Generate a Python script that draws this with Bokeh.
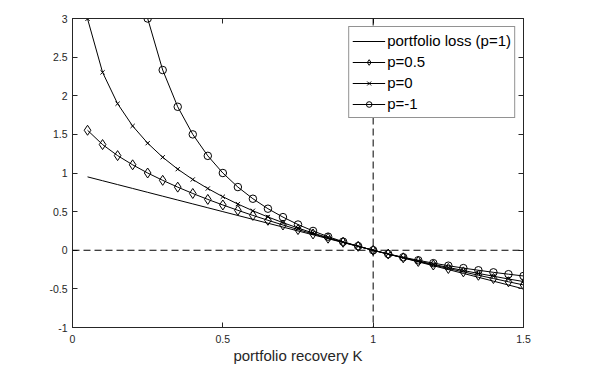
from bokeh.plotting import figure
from bokeh.models import (Range1d, FixedTicker, CustomJSTickFormatter, LinearAxis,
                          Span, Legend, LegendItem)
from bokeh.embed import file_html
from bokeh.resources import INLINE

# Data
K = [0.05, 0.10, 0.15, 0.20, 0.25, 0.30, 0.35, 0.40, 0.45, 0.50,
     0.55, 0.60, 0.65, 0.70, 0.75, 0.80, 0.85, 0.90, 0.95, 1.00,
     1.05, 1.10, 1.15, 1.20, 1.25, 1.30, 1.35, 1.40, 1.45, 1.50]
loss_p1 = [0.95, 0.90, 0.85, 0.80, 0.75, 0.70, 0.65, 0.60, 0.55, 0.50,
           0.45, 0.40, 0.35, 0.30, 0.25, 0.20, 0.15, 0.10, 0.05, 0.00,
           -0.05, -0.10, -0.15, -0.20, -0.25, -0.30, -0.35, -0.40, -0.45, -0.50]
p_05 = [1.553, 1.368, 1.225, 1.106, 1.000, 0.905, 0.817, 0.735, 0.658, 0.586,
        0.517, 0.451, 0.388, 0.327, 0.268, 0.211, 0.156, 0.103, 0.051, 0.000,
        -0.049, -0.098, -0.145, -0.191, -0.236, -0.280, -0.324, -0.366, -0.408, -0.449]
p_0 = [2.996, 2.303, 1.897, 1.609, 1.386, 1.204, 1.050, 0.916, 0.799, 0.693,
       0.598, 0.511, 0.431, 0.357, 0.288, 0.223, 0.163, 0.105, 0.051, 0.000,
       -0.049, -0.095, -0.140, -0.182, -0.223, -0.262, -0.300, -0.336, -0.372, -0.405]
p_m1 = [19.0, 9.0, 5.667, 4.0, 3.0, 2.333, 1.857, 1.5, 1.222, 1.0,
        0.818, 0.667, 0.538, 0.429, 0.333, 0.25, 0.176, 0.111, 0.053, 0.0,
        -0.048, -0.091, -0.130, -0.167, -0.2, -0.231, -0.259, -0.286, -0.310, -0.333]

x_ticks = [0, 0.5, 1, 1.5]
y_ticks = [-1, -0.5, 0, 0.5, 1, 1.5, 2, 2.5, 3]
x_label = "portfolio recovery K"
labels = ["portfolio loss (p=1)", "p=0.5", "p=0", "p=-1"]

FONT = "Liberation Sans"
AX = "#262626"

p = figure(width=583, height=371, output_backend="svg", toolbar_location=None,
           x_range=Range1d(0, 1.5), y_range=Range1d(-1, 3),
           min_border_left=72, min_border_right=60, min_border_top=18, min_border_bottom=44)
p.grid.visible = False
p.background_fill_color = "white"
p.border_fill_color = "white"
p.outline_line_color = AX
p.outline_line_width = 1

fmt = CustomJSTickFormatter(code="return String(Math.round(tick*10)/10);")

def style_axis(ax, ticks, show_labels=True):
    ax.ticker = FixedTicker(ticks=ticks)
    ax.formatter = fmt
    ax.minor_tick_line_color = None
    ax.major_tick_in = 5
    ax.major_tick_out = 0
    ax.axis_line_color = AX
    ax.major_tick_line_color = AX
    ax.major_label_text_font = FONT
    ax.major_label_text_font_size = "10.5px"
    ax.major_label_text_color = AX
    if not show_labels:
        ax.major_label_text_alpha = 0
        ax.major_label_text_font_size = "1px"
        ax.major_label_standoff = 0

style_axis(p.xaxis[0], x_ticks)
style_axis(p.yaxis[0], y_ticks)
p.xaxis[0].major_label_standoff = 7
p.yaxis[0].major_label_standoff = 5
p.xaxis[0].axis_label = x_label
p.xaxis[0].axis_label_text_font = FONT
p.xaxis[0].axis_label_text_font_size = "15px"
p.xaxis[0].axis_label_text_font_style = "normal"
p.xaxis[0].axis_label_text_color = AX
p.xaxis[0].axis_label_standoff = 1

top = LinearAxis()
style_axis(top, x_ticks, show_labels=False)
p.add_layout(top, "above")
right = LinearAxis()
style_axis(right, y_ticks, show_labels=False)
p.add_layout(right, "right")

p.add_layout(Span(location=1, dimension="height", line_color="black",
                  line_dash="7 4", line_width=1))
p.add_layout(Span(location=0, dimension="width", line_color="black",
                  line_dash="7 4", line_width=1))

r1 = p.line(K, loss_p1, line_color="black", line_width=1)
l2 = p.line(K, p_05, line_color="black", line_width=1)
s2 = p.scatter(K, p_05, marker="diamond", size=10, fill_color=None,
               line_color="black", line_width=1)
l3 = p.line(K, p_0, line_color="black", line_width=1)
s3 = p.scatter(K, p_0, marker="x", size=6, line_color="black", line_width=1)
l4 = p.line(K, p_m1, line_color="black", line_width=1)
s4 = p.scatter(K, p_m1, marker="circle", size=7.5, fill_color=None,
               line_color="black", line_width=1)

legend = Legend(items=[
    LegendItem(label=labels[0], renderers=[r1]),
    LegendItem(label=labels[1], renderers=[l2, s2]),
    LegendItem(label=labels[2], renderers=[l3, s3]),
    LegendItem(label=labels[3], renderers=[l4, s4]),
], location="top_right")
legend.margin = 8
legend.padding = 3
legend.spacing = 0
legend.label_height = 21
legend.glyph_height = 14
legend.glyph_width = 33
legend.label_standoff = 2
legend.label_text_font = FONT
legend.label_text_font_size = "15px"
legend.label_text_color = "black"
legend.border_line_color = AX
legend.border_line_width = 1
legend.background_fill_color = "white"
legend.background_fill_alpha = 1
p.add_layout(legend, "center")

open("out.html", "w").write(file_html(p, INLINE))
